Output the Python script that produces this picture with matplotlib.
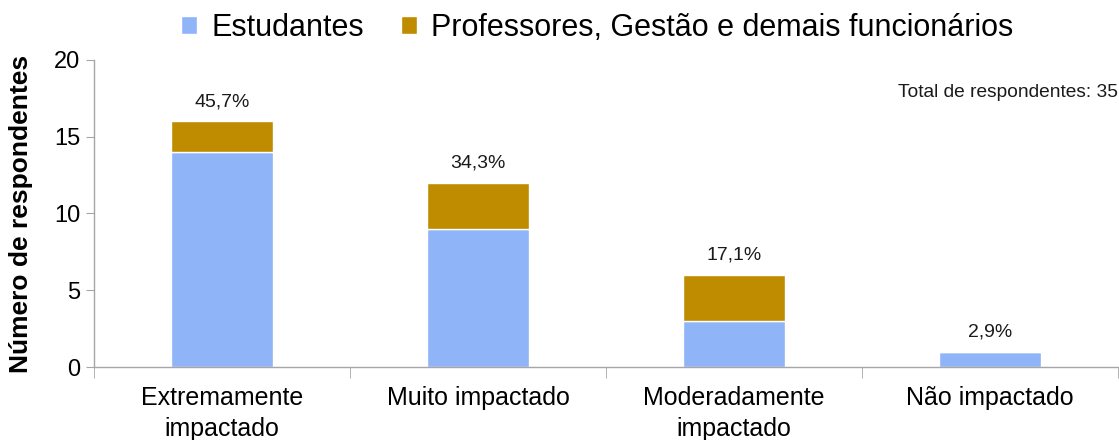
import matplotlib
matplotlib.use("Agg")
import matplotlib.pyplot as plt
import numpy as np
from matplotlib.patches import Patch

plt.rcParams['font.family'] = ['Liberation Sans', 'DejaVu Sans']

categories = ["Extremamente\nimpactado", "Muito impactado", "Moderadamente\nimpactado", "Não impactado"]
estudantes = [14, 9, 3, 1]
professores = [2, 3, 3, 0]
percent_labels = ["45,7%", "34,3%", "17,1%", "2,9%"]
series_names = ["Estudantes", "Professores, Gestão e demais funcionários"]
total_text = "Total de respondentes: 35"

c_blue = "#8FB4F8"
c_gold = "#BF8C00"
gray = "#A6A6A6"

fig = plt.figure(figsize=(11.19, 4.4), dpi=100)
ax = fig.add_axes([94/1119, 1-367/440, 1024/1119, 307/440])

x = np.arange(len(categories))
w = 0.4
ax.bar(x, estudantes, w, color=c_blue, edgecolor="white", linewidth=1)
ax.bar(x, professores, w, bottom=estudantes, color=c_gold, edgecolor="white", linewidth=1)

totals = [a + b for a, b in zip(estudantes, professores)]
for xi, t, lab in zip(x, totals, percent_labels):
    ax.annotate(lab, (xi, t), xytext=(0, 8), textcoords="offset points",
                ha="center", va="bottom", fontsize=14, color="#1a1a1a")

ax.set_xlim(-0.5, 3.5)
ax.set_ylim(0, 20)
ax.set_yticks([0, 5, 10, 15, 20])
ax.tick_params(axis='y', labelsize=17, length=6, color=gray, direction='out', pad=4)
ax.set_xticks(x)
ax.set_xticklabels(categories, fontsize=18, linespacing=1.35)
ax.tick_params(axis='x', which='major', length=0, pad=14)
ax.set_xticks(np.arange(-0.5, 4.0, 1.0), minor=True)
ax.tick_params(axis='x', which='minor', length=8, color=gray, direction='out')

for s in ['top', 'right']:
    ax.spines[s].set_visible(False)
for s in ['left', 'bottom']:
    ax.spines[s].set_color(gray)
    ax.spines[s].set_linewidth(1)

ax.set_ylabel("Número de respondentes", fontsize=19, fontweight='bold', labelpad=15)

ax.text(1.0, 17.9, total_text, transform=ax.get_yaxis_transform(), ha="right", va="center",
        fontsize=13.8, color="#1a1a1a")

handles = [Patch(facecolor=c_blue, edgecolor="white"), Patch(facecolor=c_gold, edgecolor="white")]
fig.legend(handles, series_names, loc="center", bbox_to_anchor=(597/1119, 1-28/440), ncol=2,
           frameon=False, fontsize=22, handlelength=0.55, handleheight=0.55, handletextpad=0.45,
           columnspacing=1.2, borderaxespad=0)

fig.savefig("out.png", dpi=100)
